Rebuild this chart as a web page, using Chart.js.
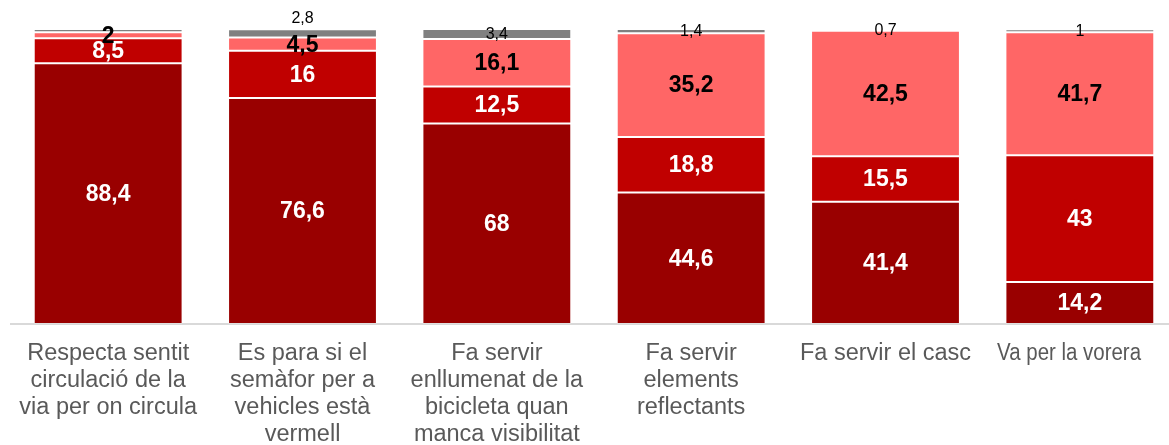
<!DOCTYPE html>
<html>
<head>
<meta charset="utf-8">
<script src="https://cdn.jsdelivr.net/npm/chart.js@4/dist/chart.umd.min.js"></script>
<style>
  html, body { margin: 0; padding: 0; background: #fff; overflow: hidden; }
  canvas { display: block; }
</style>
</head>
<body>
<canvas id="c" width="1180" height="445"></canvas>
<script>
// Behaviours of cyclists (percent of respondents)
const categories = [
  ['Respecta sentit', 'circulació de la', 'via per on circula'],
  ['Es para si el', 'semàfor per a', 'vehicles està', 'vermell'],
  ['Fa servir', 'enllumenat de la', 'bicicleta quan', 'manca visibilitat'],
  ['Fa servir', 'elements', 'reflectants'],
  ['Fa servir el casc'],
  ['Va per la vorera']
];
const sempre      = [88.4, 76.6, 68, 44.6, 41.4, 14.2];
const aVegades    = [8.5, 16, 12.5, 18.8, 15.5, 43];
const mai         = [2, 4.5, 16.1, 35.2, 42.5, 41.7];
const nsnc        = [1.1, 2.8, 3.4, 1.4, 0.7, 1];

const colors = ['#990000', '#C00000', '#FF6666', '#808080'];

// Where the small grey value sits: hidden, above the bar, or inside its segment
const smallLabelMode = ['none', 'above', 'center', 'center', 'center', 'center'];

const fmt = v => String(v).replace('.', ',');
const FONT = '"Liberation Sans", Arial, sans-serif';

const valueLabels = {
  id: 'valueLabels',
  afterDatasetsDraw(chart) {
    const ctx = chart.ctx;
    ctx.save();
    ctx.textAlign = 'center';
    ctx.textBaseline = 'middle';
    chart.data.datasets.forEach((ds, di) => {
      const meta = chart.getDatasetMeta(di);
      meta.data.forEach((bar, i) => {
        const v = ds.data[i];
        const cy = (bar.y + bar.base) / 2;
        if (di === 3) {
          const mode = smallLabelMode[i];
          if (mode === 'none') return;
          ctx.font = '16px ' + FONT;
          ctx.fillStyle = '#000';
          ctx.fillText(fmt(v), bar.x, mode === 'above' ? bar.y - 11 : cy + 1);
        } else {
          ctx.font = 'bold 23px ' + FONT;
          ctx.fillStyle = di === 2 ? '#000' : '#fff';
          ctx.fillText(fmt(v), bar.x, cy + 1);
        }
      });
    });
    ctx.restore();
  }
};

// Category labels under the axis, squeezed where a line would run past the right edge
const categoryLabels = {
  id: 'categoryLabels',
  afterDraw(chart) {
    const ctx = chart.ctx;
    const xs = chart.scales.x;
    const lineH = 27, firstY = chart.chartArea.bottom + 30, rightLimit = 1141;
    ctx.save();
    ctx.font = '23.5px ' + FONT;
    ctx.fillStyle = '#595959';
    ctx.textAlign = 'center';
    ctx.textBaseline = 'middle';
    categories.forEach((lines, i) => {
      const cx = xs.getPixelForValue(i);
      lines.forEach((t, li) => {
        const w = ctx.measureText(t).width;
        const left = cx - w / 2;
        const right = Math.min(cx + w / 2, rightLimit);
        ctx.fillText(t, (left + right) / 2, firstY + li * lineH, right - left);
      });
    });
    ctx.restore();
  }
};

const mk = (label, data, i) => ({
  label, data,
  backgroundColor: colors[i],
  borderColor: 'rgba(255,255,255,0.2)',
  borderWidth: 1,
  borderSkipped: false,
  categoryPercentage: 1,
  barPercentage: 0.766
});

new Chart(document.getElementById('c'), {
  type: 'bar',
  data: {
    labels: categories.map(l => l.join(' ')),
    datasets: [
      mk('Sempre', sempre, 0),
      mk('A vegades', aVegades, 1),
      mk('Mai', mai, 2),
      mk('Ns/Nc', nsnc, 3)
    ]
  },
  options: {
    responsive: false,
    animation: false,
    layout: { padding: { left: 11, right: 3, top: 29, bottom: 0 } },
    plugins: { legend: { display: false }, tooltip: { enabled: false } },
    scales: {
      x: {
        stacked: true,
        grid: { display: false, drawTicks: false },
        border: { display: true, color: '#d9d9d9', width: 2 },
        ticks: { display: false },
        afterFit(scale) { scale.height = 121; }
      },
      y: {
        stacked: true,
        display: false,
        min: 0,
        max: 100
      }
    }
  },
  plugins: [valueLabels, categoryLabels]
});
</script>
</body>
</html>
